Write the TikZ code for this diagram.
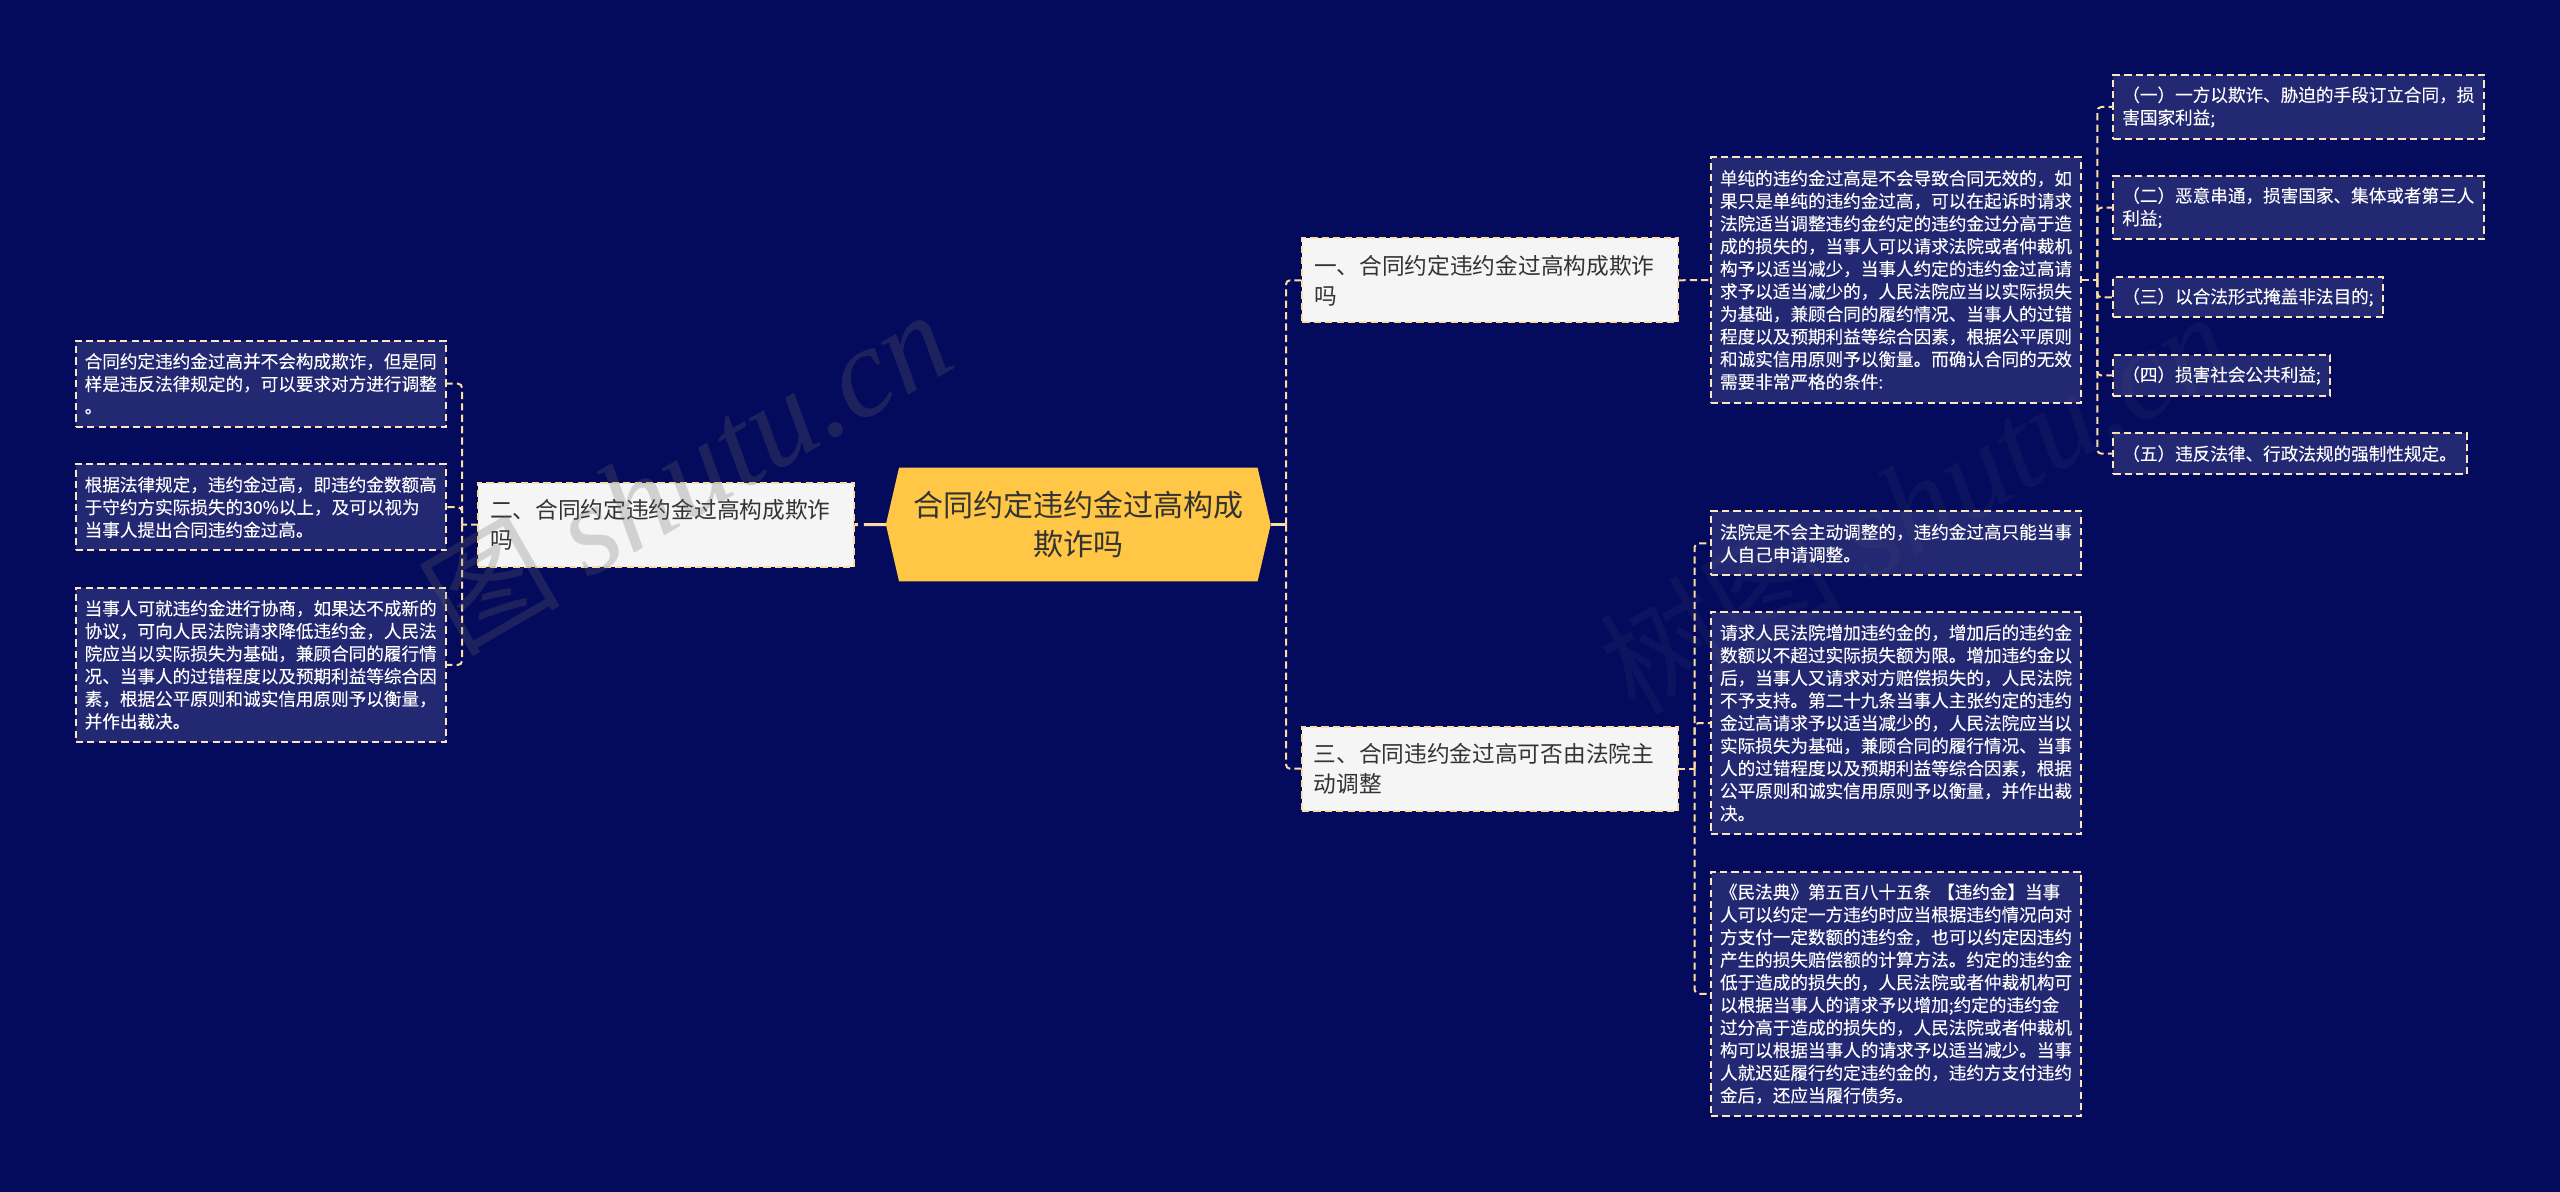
\documentclass[tikz,border=0pt]{standalone}
\usepackage{fontspec}
\usetikzlibrary{shapes.symbols}
\setmainfont{Noto Sans CJK SC}
\newfontfamily\leaffont{Noto Sans CJK SC}[FakeBold=0.12]
\newfontfamily\markfont{Liberation Serif}[ItalicFont=* Italic,Scale=1.06]

\definecolor{navy}{HTML}{050B5C}
\definecolor{leaffill}{HTML}{232872}
\definecolor{gold}{HTML}{FFC745}
\definecolor{sand}{HTML}{FBDDA4}
\definecolor{pale}{HTML}{FBE6C0}
\definecolor{paper}{HTML}{F5F5F5}
\definecolor{ink}{HTML}{333333}

\tikzset{
    leaf/.style={draw=pale, fill=leaffill, text=white, line width=1pt, outer sep=0pt,
        dash pattern=on 3.6pt off 2.1pt, anchor=west, align=left,
        inner xsep=4.5pt, inner ysep=0pt, text width=#1,
        font=\leaffont\fontsize{8.8}{11.3}\selectfont},
    leaf/.default=176.2pt,
    branch/.style={draw=sand, fill=paper, text=ink, line width=1pt, outer sep=0pt,
        dash pattern=on 3.6pt off 2.1pt, anchor=west, align=left,
        inner xsep=5.8pt, inner ysep=0pt, text width=176.4pt, minimum height=42pt,
        font=\fontsize{11.35}{15}\selectfont},
    link/.style={draw=sand, line width=1pt, dash pattern=on 3.6pt off 2.1pt, rounded corners=2pt},
    stub/.style={draw=sand, line width=1.5pt},
    stubgap/.style={stub, dash pattern=on 11pt off 3pt},
    watermark/.style={rotate=30, inner sep=0pt, font=\fontsize{60.3}{60.3}\selectfont}
}

\begin{document}
\begin{tikzpicture}[x=0.5pt,y=-0.5pt]
        \useasboundingbox[fill=navy] (0,0) rectangle (2560,1192);
        % root
        \node[signal, signal to=west and east, signal pointer angle=154, fill=gold, text=ink, inner sep=0pt, outer sep=0pt,
            minimum width=192.4pt, minimum height=56.8pt, align=center,
            font=\fontsize{15}{19.5}\selectfont] (root) at (1078.3,524.5) {合同约定违约金过高构成\\欺诈吗};
        % branches
        \node[branch] (one) at (1302.4,280.3) {一、合同约定违约金过高构成欺诈\\吗};
        \node[branch] (two) at (478.4,524.7) {二、合同约定违约金过高构成欺诈\\吗};
        \node[branch] (three) at (1302,768.7) {三、合同违约金过高可否由法院主\\动调整};
        % left leaves
        \node[leaf, minimum height=43pt] (two-a) at (75.7,383.7) {合同约定违约金过高并不会构成欺诈，但是同\\样是违反法律规定的，可以要求对方进行调整\\。};
        \node[leaf, minimum height=43pt] (two-b) at (75.7,507.2) {根据法律规定，违约金过高，即违约金数额高\\于守约方实际损失的30\%以上，及可以视为\\当事人提出合同违约金过高。};
        \node[leaf, minimum height=77pt] (two-c) at (75.7,664.9) {当事人可就违约金进行协商，如果达不成新的\\协议，可向人民法院请求降低违约金，人民法\\院应当以实际损失为基础，兼顾合同的履行情\\况、当事人的过错程度以及预期利益等综合因\\素，根据公平原则和诚实信用原则予以衡量，\\并作出裁决。};
        % leaf under branch one
        \node[leaf, minimum height=122.7pt] (one-a) at (1711,280) {单纯的违约金过高是不会导致合同无效的，如\\果只是单纯的违约金过高，可以在起诉时请求\\法院适当调整违约金约定的违约金过分高于造\\成的损失的，当事人可以请求法院或者仲裁机\\构予以适当减少，当事人约定的违约金过高请\\求予以适当减少的，人民法院应当以实际损失\\为基础，兼顾合同的履约情况、当事人的过错\\程度以及预期利益等综合因素，根据公平原则\\和诚实信用原则予以衡量。而确认合同的无效\\需要非常严格的条件:};
        % five items
        \node[leaf, minimum height=32pt] (item-a) at (2113.3,107) {（一）一方以欺诈、胁迫的手段订立合同，损\\害国家利益;};
        \node[leaf, minimum height=31.7pt] (item-b) at (2113.3,207.7) {（二）恶意串通，损害国家、集体或者第三人\\利益;};
        \node[leaf=126pt, minimum height=20pt] (item-c) at (2113.3,297.3) {（三）以合法形式掩盖非法目的;};
        \node[leaf=99.5pt, minimum height=20.5pt] (item-d) at (2113.3,375.5) {（四）损害社会公共利益;};
        \node[leaf=167.7pt, minimum height=20.3pt] (item-e) at (2113.3,453.7) {（五）违反法律、行政法规的强制性规定。};
        % leaves under branch three
        \node[leaf, minimum height=32pt] (three-a) at (1711,543.3) {法院是不会主动调整的，违约金过高只能当事\\人自己申请调整。};
        \node[leaf, minimum height=111pt] (three-b) at (1711,723) {请求人民法院增加违约金的，增加后的违约金\\数额以不超过实际损失额为限。增加违约金以\\后，当事人又请求对方赔偿损失的，人民法院\\不予支持。第二十九条当事人主张约定的违约\\金过高请求予以适当减少的，人民法院应当以\\实际损失为基础，兼顾合同的履行情况、当事\\人的过错程度以及预期利益等综合因素，根据\\公平原则和诚实信用原则予以衡量，并作出裁\\决。};
        \node[leaf, minimum height=122.2pt] (three-c) at (1711,993.8) {《民法典》第五百八十五条 【违约金】当事\\人可以约定一方违约时应当根据违约情况向对\\方支付一定数额的违约金，也可以约定因违约\\产生的损失赔偿额的计算方法。约定的违约金\\低于造成的损失的，人民法院或者仲裁机构可\\以根据当事人的请求予以增加;约定的违约金\\过分高于造成的损失的，人民法院或者仲裁机\\构可以根据当事人的请求予以适当减少。当事\\人就迟延履行约定违约金的，违约方支付违约\\金后，还应当履行债务。};
        % trunks
        \coordinate (trunk-right) at (1286,524.5);
        \coordinate (trunk-left) at (462,524.5);
        \coordinate (trunk-one) at (2097.3,280);
        \coordinate (trunk-three) at (1694.6,768.7);
        \draw[stub] (root.east) -- (trunk-right);
        \draw[stubgap] (root.west) -- (two.east);
        \draw[link] (trunk-right) |- (one.west);
        \draw[link] (trunk-right) |- (three.west);
        \draw[link] (two.west) -- (trunk-left);
        \draw[link] (trunk-left) |- (two-a.east);
        \draw[link] (trunk-left) |- (two-b.east);
        \draw[link] (trunk-left) |- (two-c.east);
        \draw[link] (one.east) -- (one-a.west);
        \draw[link] (one-a.east) -- (trunk-one);
        \foreach \n in {item-a,item-b,item-c,item-d,item-e}
            \draw[link] (trunk-one) |- (\n.west);
        \draw[link] (three.east) -- (trunk-three);
        \foreach \n in {three-a,three-b,three-c}
            \draw[link] (trunk-three) |- (\n.west);
        % watermarks
        \node[watermark, text=black!60, opacity=0.25] (mark-left) at (688,472)
            {图 {\markfont\itshape shutu.cn}};
        \node[watermark, text=gray, opacity=0.07] (mark-right) at (1915,502)
            {树图 {\markfont\itshape shutu.cn}};
\end{tikzpicture}
\end{document}
